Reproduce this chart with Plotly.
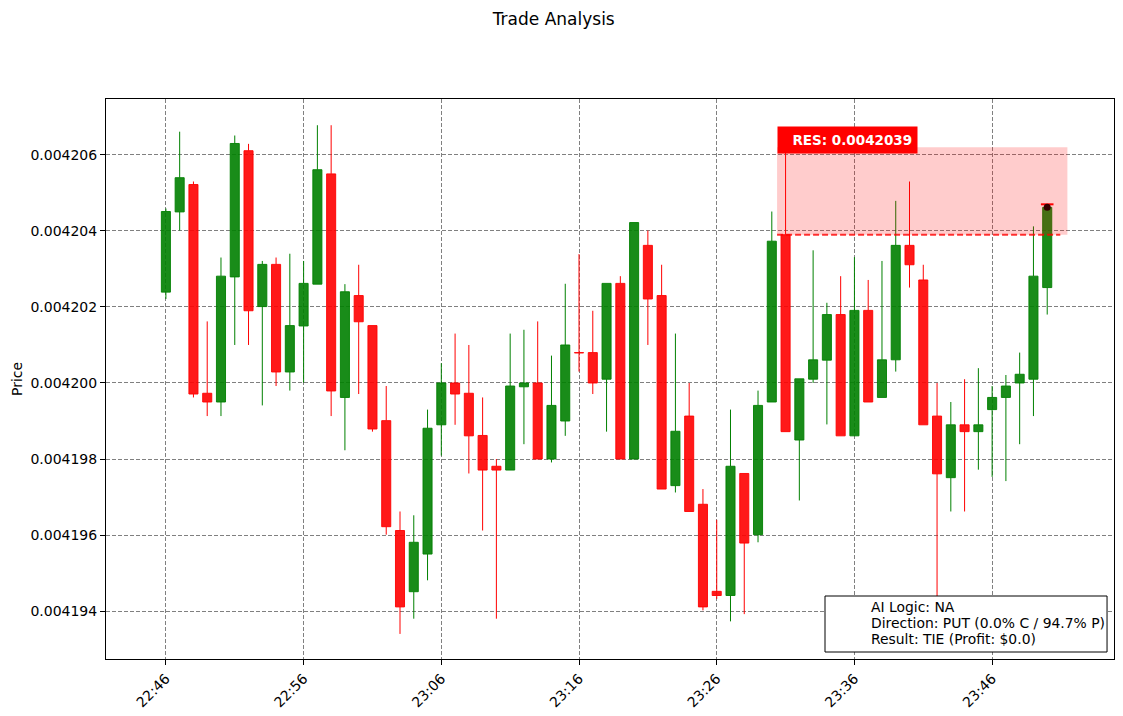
import pandas as pd
import plotly.graph_objects as go

# one-minute candles, 22:46 -> 23:50
times = pd.date_range("2024-01-01 22:46", periods=65, freq="min")

open_ = [0.00420239, 0.00420450, 0.00420522, 0.00419973, 0.00419950, 0.00420279, 0.00420611, 0.00420201,
         0.00420312, 0.00420029, 0.00420150, 0.00420260, 0.00420550, 0.00419962, 0.00420230, 0.00420151,
         0.00419901, 0.00419612, 0.00419451, 0.00419550, 0.00419890, 0.00420000, 0.00419973, 0.00419862,
         0.00419781, 0.00419771, 0.00419990, 0.00420000, 0.00419800, 0.00419900, 0.00420080, 0.00420080,
         0.00420010, 0.00420262, 0.00419800, 0.00420362, 0.00420230, 0.00419730, 0.00419913, 0.00419681,
         0.00419452, 0.00419441, 0.00419762, 0.00419601, 0.00419950, 0.00420390, 0.00419850, 0.00420010,
         0.00420060, 0.00420180, 0.00419861, 0.00420191, 0.00419962, 0.00420061, 0.00420362, 0.00420271,
         0.00419913, 0.00419751, 0.00419890, 0.00419872, 0.00419930, 0.00419962, 0.00420000, 0.00420010,
         0.00420251]
high = [0.00420459, 0.00420661, 0.00420530, 0.00420162, 0.00420330, 0.00420651, 0.00420629, 0.00420321,
        0.00420330, 0.00420340, 0.00420321, 0.00420678, 0.00420678, 0.00420260, 0.00420311, 0.00420151,
        0.00419992, 0.00419662, 0.00419652, 0.00419930, 0.00420052, 0.00420130, 0.00420100, 0.00419962,
        0.00419800, 0.00420130, 0.00420140, 0.00420162, 0.00420072, 0.00420261, 0.00420339, 0.00420190,
        0.00420262, 0.00420281, 0.00420422, 0.00420401, 0.00420311, 0.00420130, 0.00420000, 0.00419721,
        0.00419640, 0.00419930, 0.00419762, 0.00419980, 0.00420451, 0.00420625, 0.00420011, 0.00420349,
        0.00420211, 0.00420281, 0.00420331, 0.00420271, 0.00420321, 0.00420479, 0.00420530, 0.00420311,
        0.00420000, 0.00419950, 0.00420010, 0.00420039, 0.00419992, 0.00420021, 0.00420080, 0.00420412,
        0.00420470]
low = [0.00420221, 0.00420401, 0.00419962, 0.00419913, 0.00419913, 0.00420100, 0.00420100, 0.00419941,
       0.00419992, 0.00419980, 0.00420001, 0.00420260, 0.00419913, 0.00419823, 0.00419971, 0.00419872,
       0.00419601, 0.00419340, 0.00419380, 0.00419481, 0.00419809, 0.00419890, 0.00419762, 0.00419612,
       0.00419380, 0.00419771, 0.00419839, 0.00419800, 0.00419791, 0.00419861, 0.00420030, 0.00419971,
       0.00419872, 0.00419800, 0.00419800, 0.00420100, 0.00419721, 0.00419712, 0.00419662, 0.00419402,
       0.00419432, 0.00419373, 0.00419392, 0.00419581, 0.00419950, 0.00419872, 0.00419691, 0.00420000,
       0.00419891, 0.00419861, 0.00419861, 0.00419950, 0.00419962, 0.00420030, 0.00420251, 0.00419890,
       0.00419390, 0.00419662, 0.00419662, 0.00419772, 0.00419753, 0.00419742, 0.00419839, 0.00419913,
       0.00420180]
close = [0.00420451, 0.00420540, 0.00419971, 0.00419950, 0.00420281, 0.00420630, 0.00420190, 0.00420312,
         0.00420029, 0.00420151, 0.00420262, 0.00420561, 0.00419979, 0.00420240, 0.00420161, 0.00419879,
         0.00419622, 0.00419411, 0.00419581, 0.00419881, 0.00420000, 0.00419971, 0.00419861, 0.00419771,
         0.00419771, 0.00419992, 0.00420000, 0.00419800, 0.00419941, 0.00420100, 0.00420079, 0.00420000,
         0.00420262, 0.00419800, 0.00420422, 0.00420221, 0.00419721, 0.00419873, 0.00419662, 0.00419411,
         0.00419441, 0.00419781, 0.00419579, 0.00419941, 0.00420373, 0.00419872, 0.00420011, 0.00420061,
         0.00420180, 0.00419861, 0.00420191, 0.00419950, 0.00420061, 0.00420362, 0.00420311, 0.00419890,
         0.00419761, 0.00419890, 0.00419872, 0.00419890, 0.00419962, 0.00419992, 0.00420023, 0.00420281,
         0.00420462]

res_level = 0.0042039
res_top = 0.0042062
entry_price = 0.00420462
exit_price = 0.0042047

info_lines = ["AI Logic: NA",
              "Direction: PUT (0.0% C / 94.7% P)",
              "Result: TIE (Profit: $0.0)"]

GREEN = "#008000"
RED = "#ff0000"

up = [i for i in range(len(times)) if close[i] >= open_[i]]
dn = [i for i in range(len(times)) if close[i] < open_[i]]

fig = go.Figure()


def wick_xy(idx):
    xs, ys = [], []
    for i in idx:
        top = max(open_[i], close[i])
        bot = min(open_[i], close[i])
        xs += [times[i], times[i], None, times[i], times[i], None]
        ys += [top, high[i], None, low[i], bot, None]
    return xs, ys


for idx, col, fill in [(up, GREEN, "rgba(0,128,0,0.9)"), (dn, RED, "rgba(255,0,0,0.9)")]:
    wx, wy = wick_xy(idx)
    fig.add_trace(go.Scatter(x=wx, y=wy, mode="lines",
                             line=dict(color=col, width=1), hoverinfo="skip"))
    fig.add_trace(go.Bar(x=[times[i] for i in idx],
                         y=[close[i] - open_[i] for i in idx],
                         base=[open_[i] for i in idx],
                         width=39500,
                         marker=dict(color=fill, line=dict(color=fill, width=1))))

# entry marker / exit tick on last candle
fig.add_trace(go.Scatter(x=[times[-1]], y=[exit_price], mode="markers",
                         marker=dict(symbol="line-ew", size=9, line=dict(color=RED, width=2))))
fig.add_trace(go.Scatter(x=[times[-1]], y=[entry_price], mode="markers",
                         marker=dict(color="black", size=7)))

zone_start = str(times[45] - pd.Timedelta(seconds=37))
zone_end = str(times[-1] + pd.Timedelta(seconds=88))
line_end = str(times[-1] + pd.Timedelta(seconds=57))

fig.add_shape(type="rect", x0=zone_start, x1=zone_end, y0=res_level, y1=res_top,
              fillcolor="red", opacity=0.2, line_width=0, layer="above")
fig.add_shape(type="line", x0=zone_start, x1=line_end, y0=res_level, y1=res_level,
              line=dict(color="rgba(255,0,0,0.8)", width=2, dash="6px,3px"), layer="above")

fig.add_annotation(x=zone_start, y=0.00420603, xanchor="left", yanchor="bottom",
                   text="<b>&nbsp;&nbsp;RES: " + f"{res_level:.7f}" + "</b>", showarrow=False,
                   bgcolor="red", borderpad=5,
                   font=dict(color="white", size=13.5, family="DejaVu Sans"))

# info box bottom right
fig.add_shape(type="rect", xref="paper", yref="paper", x0=0.7133, x1=0.9931, y0=0.0125, y1=0.1125,
              fillcolor="white", line=dict(color="black", width=1), layer="above")
for line_text, yp in zip(info_lines, [0.0929, 0.0643, 0.0357]):
    fig.add_annotation(xref="paper", yref="paper", x=0.757, y=yp, xanchor="left", yanchor="middle",
                       align="left", showarrow=False, text=line_text,
                       font=dict(size=13.9, family="DejaVu Sans", color="black"))

axis_style = dict(showline=True, mirror=True, linecolor="black", linewidth=1,
                  ticks="outside", ticklen=5, tickcolor="black",
                  showgrid=True, gridcolor="gray", griddash="4px,2px", gridwidth=1,
                  zeroline=False, automargin=False,
                  tickfont=dict(size=14, family="DejaVu Sans", color="black"))

fig.update_xaxes(**axis_style, type="date", tickformat="%H:%M", tick0=str(times[0]), dtick=600000,
                 tickangle=-45,
                 range=[str(times[0] - pd.Timedelta(seconds=261)), str(times[0] + pd.Timedelta(seconds=4131))])
fig.update_yaxes(**axis_style, tickformat=".6f", dtick=0.000002, tick0=0.004194,
                 range=[0.00419274, 0.00420747],
                 title=dict(text="Price", standoff=4, font=dict(size=14, family="DejaVu Sans", color="black")))

# page body adds a small offset, so the figure is shrunk by that amount
fig.update_layout(width=1116, height=709,
                  margin=dict(l=98, r=10, t=91, b=58),
                  plot_bgcolor="white", paper_bgcolor="white",
                  barmode="overlay", showlegend=False,
                  title=dict(text="Trade Analysis", x=0.489, xanchor="center", y=0.985, yanchor="middle",
                             font=dict(size=17, family="DejaVu Sans", color="black")),
                  font=dict(family="DejaVu Sans"))

fig.write_html("out.html")
